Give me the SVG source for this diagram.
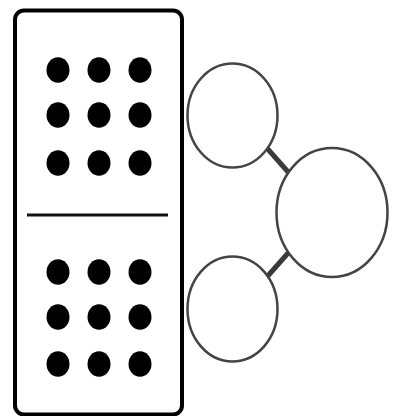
<svg xmlns="http://www.w3.org/2000/svg" width="395" height="416" viewBox="0 0 395 416">
<style>
.dot{fill:#000}
.circ{fill:#fff;stroke:#444;stroke-width:2.5}
.conn{stroke:#3a3a3a;stroke-width:5;stroke-linecap:butt}
</style>
<rect width="395" height="416" fill="#fff"/>
<g id="domino">
<rect x="15" y="10.5" width="167" height="404" rx="9" fill="#fff" stroke="#000" stroke-width="4"/>
<line x1="27" y1="215" x2="168" y2="215" stroke="#111" stroke-width="3"/>
<g id="top-dots">
<ellipse class="dot" cx="58" cy="70" rx="11.5" ry="12.7"/>
<ellipse class="dot" cx="99" cy="70" rx="11.5" ry="12.7"/>
<ellipse class="dot" cx="140" cy="70" rx="11.5" ry="12.7"/>
<ellipse class="dot" cx="58" cy="115" rx="11.5" ry="12.7"/>
<ellipse class="dot" cx="99" cy="115" rx="11.5" ry="12.7"/>
<ellipse class="dot" cx="140" cy="115" rx="11.5" ry="12.7"/>
<ellipse class="dot" cx="58" cy="163" rx="11.5" ry="12.7"/>
<ellipse class="dot" cx="99" cy="163" rx="11.5" ry="12.7"/>
<ellipse class="dot" cx="140" cy="163" rx="11.5" ry="12.7"/>
</g>
<g id="bottom-dots">
<ellipse class="dot" cx="58" cy="272" rx="11.5" ry="12.7"/>
<ellipse class="dot" cx="99" cy="272" rx="11.5" ry="12.7"/>
<ellipse class="dot" cx="140" cy="272" rx="11.5" ry="12.7"/>
<ellipse class="dot" cx="58" cy="317" rx="11.5" ry="12.7"/>
<ellipse class="dot" cx="99" cy="317" rx="11.5" ry="12.7"/>
<ellipse class="dot" cx="140" cy="317" rx="11.5" ry="12.7"/>
<ellipse class="dot" cx="58" cy="364" rx="11.5" ry="12.7"/>
<ellipse class="dot" cx="99" cy="364" rx="11.5" ry="12.7"/>
<ellipse class="dot" cx="140" cy="364" rx="11.5" ry="12.7"/>
</g>
</g>
<g id="connectors">
<line class="conn" x1="266" y1="147" x2="289" y2="173"/>
<line class="conn" x1="289" y1="252" x2="266" y2="278"/>
</g>
<g id="circle-top"><ellipse class="circ" cx="232.5" cy="115.5" rx="45" ry="52"/></g>
<g id="circle-whole"><ellipse class="circ" cx="332" cy="212.5" rx="55.5" ry="64.5"/></g>
<g id="circle-bottom"><ellipse class="circ" cx="232.5" cy="309" rx="45" ry="52.5"/></g>
</svg>
